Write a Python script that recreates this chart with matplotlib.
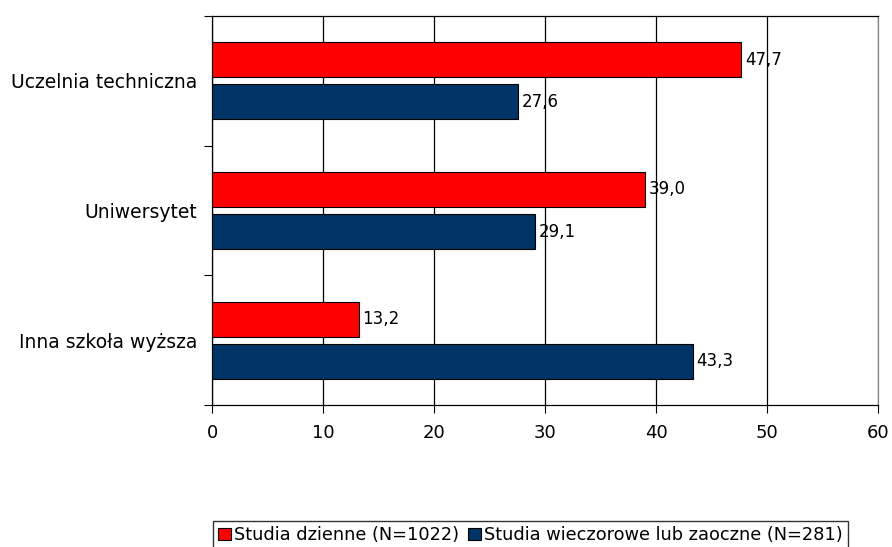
import numpy as np
import matplotlib.pyplot as plt

categories = ["Uczelnia techniczna", "Uniwersytet", "Inna szkoła wyższa"]
dzienne = [47.7, 39.0, 13.2]
wieczorowe = [27.6, 29.1, 43.3]
series_names = ["Studia dzienne (N=1022)", "Studia wieczorowe lub zaoczne (N=281)"]
colors = ["#ff0000", "#003366"]

plt.rcParams["font.family"] = ["DejaVu Sans"]

fig = plt.figure(figsize=(8.92, 5.47), dpi=100)
ax = fig.add_axes([212 / 892, 1 - 405 / 547, 666 / 892, 389 / 547])

y = np.arange(len(categories))
h = 0.27
off = 0.162
b1 = ax.barh(y - off, dzienne, height=h, color=colors[0], edgecolor="black", linewidth=0.8,
             label=series_names[0], zorder=3)
b2 = ax.barh(y + off, wieczorowe, height=h, color=colors[1], edgecolor="black", linewidth=0.8,
             label=series_names[1], zorder=3)

# value labels with decimal comma
for bars, vals in ((b1, dzienne), (b2, wieczorowe)):
    for bar, v in zip(bars, vals):
        ax.text(v + 0.3, bar.get_y() + bar.get_height() / 2, f"{v:.1f}".replace(".", ","),
                va="center", ha="left", fontsize=12, zorder=4)

ax.set_xlim(0, 60)
ax.set_ylim(2.5, -0.5)
ax.set_xticks(np.arange(0, 61, 10))
ax.xaxis.grid(True, color="black", linewidth=0.9, zorder=0)
ax.set_yticks(np.arange(-0.5, 3, 1), minor=False)
ax.set_yticklabels([])
ax.set_yticks(y, minor=True)
ax.set_yticklabels(categories, minor=True)
ax.tick_params(axis="y", which="minor", length=0, pad=10.5, labelsize=13.5)
ax.tick_params(axis="y", which="major", length=6, direction="out")
ax.tick_params(axis="x", length=6, direction="out", labelsize=13, pad=8)
for s in ax.spines.values():
    s.set_linewidth(0.9)
    s.set_color("black")
ax.spines["right"].set_color("#888888")

fig.legend(handles=[b1, b2], labels=series_names, loc="upper left",
           bbox_to_anchor=(213 / 892, 1 - 521 / 547), ncol=2, frameon=True,
           fancybox=False, edgecolor="black", fontsize=12.8, handlelength=0.7, handleheight=0.7,
           handletextpad=0.2, columnspacing=0.5, borderpad=0.3, borderaxespad=0)

fig.savefig("out.png", dpi=100)
